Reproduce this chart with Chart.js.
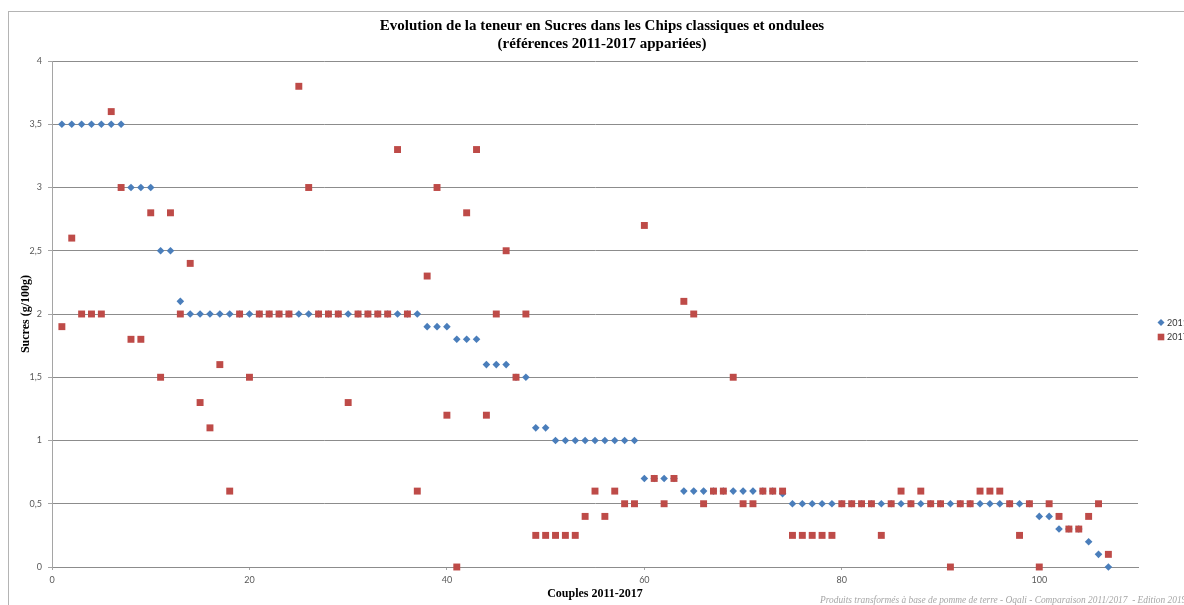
<!DOCTYPE html>
<html>
<head>
<meta charset="utf-8">
<script src="https://cdn.jsdelivr.net/npm/chart.js@4.4.1/dist/chart.umd.min.js"></script>
<style>
  html, body { margin: 0; padding: 0; overflow: hidden; background: #fff; }
  #wrap { position: absolute; left: 0; top: 0; width: 1200px; height: 605px; }
</style>
</head>
<body>
<div id="wrap"><canvas id="sucresChart"></canvas></div>
<script>
// Sucres (g/100g) per couple, couples numbered 1..107
const sucres2011 = [
  3.5, 3.5, 3.5, 3.5, 3.5, 3.5, 3.5, 3, 3, 3,
  2.5, 2.5, 2.1, 2, 2, 2, 2, 2, 2, 2,
  2, 2, 2, 2, 2, 2, 2, 2, 2, 2,
  2, 2, 2, 2, 2, 2, 2, 1.9, 1.9, 1.9,
  1.8, 1.8, 1.8, 1.6, 1.6, 1.6, 1.5, 1.5, 1.1, 1.1,
  1, 1, 1, 1, 1, 1, 1, 1, 1, 0.7,
  0.7, 0.7, 0.7, 0.6, 0.6, 0.6, 0.6, 0.6, 0.6, 0.6,
  0.6, 0.6, 0.6, 0.58, 0.5, 0.5, 0.5, 0.5, 0.5, 0.5,
  0.5, 0.5, 0.5, 0.5, 0.5, 0.5, 0.5, 0.5, 0.5, 0.5,
  0.5, 0.5, 0.5, 0.5, 0.5, 0.5, 0.5, 0.5, 0.5, 0.4,
  0.4, 0.3, 0.3, 0.3, 0.2, 0.1, 0
];
const sucres2017 = [
  1.9, 2.6, 2, 2, 2, 3.6, 3, 1.8, 1.8, 2.8,
  1.5, 2.8, 2, 2.4, 1.3, 1.1, 1.6, 0.6, 2, 1.5,
  2, 2, 2, 2, 3.8, 3, 2, 2, 2, 1.3,
  2, 2, 2, 2, 3.3, 2, 0.6, 2.3, 3, 1.2,
  0, 2.8, 3.3, 1.2, 2, 2.5, 1.5, 2, 0.25, 0.25,
  0.25, 0.25, 0.25, 0.4, 0.6, 0.4, 0.6, 0.5, 0.5, 2.7,
  0.7, 0.5, 0.7, 2.1, 2, 0.5, 0.6, 0.6, 1.5, 0.5,
  0.5, 0.6, 0.6, 0.6, 0.25, 0.25, 0.25, 0.25, 0.25, 0.5,
  0.5, 0.5, 0.5, 0.25, 0.5, 0.6, 0.5, 0.6, 0.5, 0.5,
  0, 0.5, 0.5, 0.6, 0.6, 0.6, 0.5, 0.25, 0.5, 0,
  0.5, 0.4, 0.3, 0.3, 0.4, 0.5, 0.1
];
const seriesLabels = ['2011', '2017'];
const titleLines = [
  'Evolution de la teneur en Sucres dans les Chips classiques et ondulees',
  '(références 2011-2017 appariées)'
];
const footnote = 'Produits transformés à base de pomme de terre - Oqali - Comparaison 2011/2017  - Edition 2019';

const toPoints = values => values.map((v, i) => ({ x: i + 1, y: v }));
const tickFont = { family: 'Lato', size: 9 };
const serifBold = { family: '"Liberation Serif", serif', size: 12, weight: 'bold' };

// frame around the whole chart, as in the spreadsheet export
const framePlugin = {
  id: 'frame',
  beforeDraw(chart) {
    const ctx = chart.ctx;
    ctx.save();
    ctx.strokeStyle = '#b4b4b4';
    ctx.lineWidth = 1;
    ctx.strokeRect(8.5, 11.5, 1400, 700);
    ctx.restore();
  }
};

// small legend at the right of the plot plus the source note
const sideLegend = {
  id: 'sideLegend',
  afterDraw(chart) {
    const ctx = chart.ctx;
    const area = chart.chartArea;
    const mx = area.right + 23;
    const midY = (area.top + area.bottom) / 2;
    const ds = chart.data.datasets;
    ctx.save();
    // 2011 diamond
    ctx.fillStyle = ds[0].backgroundColor;
    ctx.beginPath();
    ctx.moveTo(mx - 3.5, midY + 8.5);
    ctx.lineTo(mx, midY + 5);
    ctx.lineTo(mx + 3.5, midY + 8.5);
    ctx.lineTo(mx, midY + 12);
    ctx.closePath();
    ctx.fill();
    // 2017 square
    ctx.fillStyle = ds[1].backgroundColor;
    ctx.fillRect(mx - 3.3, midY + 23 - 3.3, 6.6, 6.6);
    ctx.fillStyle = '#333';
    ctx.font = '9px Lato';
    ctx.textBaseline = 'middle';
    ctx.fillText(ds[0].label, mx + 6, midY + 9);
    ctx.fillText(ds[1].label, mx + 6, midY + 23.5);

    ctx.font = 'italic 9.4px "Liberation Serif"';
    ctx.fillStyle = '#a6a6a6';
    ctx.textBaseline = 'alphabetic';
    ctx.fillText(footnote, 820, 603);
    ctx.restore();
  }
};

new Chart(document.getElementById('sucresChart'), {
  type: 'scatter',
  data: {
    datasets: [{
      label: seriesLabels[0],
      data: toPoints(sucres2011),
      pointStyle: 'rectRot',
      pointRadius: 3.8,
      pointHoverRadius: 3.8,
      borderWidth: 0,
      backgroundColor: '#4a7ebb',
      borderColor: '#4a7ebb',
      order: 1,
      clip: false
    }, {
      label: seriesLabels[1],
      data: toPoints(sucres2017),
      pointStyle: 'rect',
      pointRadius: 4.9,
      pointHoverRadius: 4.9,
      borderWidth: 0,
      backgroundColor: '#be4b48',
      borderColor: '#be4b48',
      order: 0,
      clip: false
    }]
  },
  options: {
    responsive: true,
    maintainAspectRatio: false,
    animation: false,
    layout: { padding: { left: 10, right: 6, top: 0, bottom: 0 } },
    plugins: {
      legend: { display: false },
      tooltip: { enabled: false },
      title: {
        display: true,
        text: titleLines,
        color: '#000',
        font: { family: '"Liberation Serif", serif', size: 15, weight: 'bold', lineHeight: '18px' },
        padding: { top: 17, bottom: 8 }
      }
    },
    scales: {
      x: {
        type: 'linear',
        min: 0,
        max: 110,
        afterFit: s => { s.height = 38; },
        ticks: { stepSize: 20, includeBounds: false, color: '#595959', font: tickFont, padding: 5 },
        grid: { drawOnChartArea: false, drawTicks: true, tickLength: 3, color: '#a5a5a5' },
        border: { color: '#8c8c8c' },
        title: { display: true, text: 'Couples 2011-2017', color: '#000', font: serifBold, padding: { top: 0, bottom: 4 } }
      },
      y: {
        min: 0,
        max: 4,
        afterFit: s => { s.width = 42; },
        ticks: {
          stepSize: 0.5,
          color: '#595959',
          font: tickFont,
          padding: 6,
          callback: v => String(v).replace('.', ',')
        },
        grid: { color: '#8c8c8c', tickLength: 4, tickColor: '#a5a5a5' },
        border: { color: '#a5a5a5' },
        title: { display: true, text: 'Sucres (g/100g)', color: '#000', font: serifBold, padding: { top: 9, bottom: 0 } }
      },
      // empty right-hand axis: keeps room for the legend on the right
      side: {
        type: 'linear',
        position: 'right',
        afterFit: s => { s.width = 56; },
        ticks: { display: false },
        grid: { display: false },
        border: { display: false }
      }
    }
  },
  plugins: [framePlugin, sideLegend]
});
</script>
</body>
</html>
